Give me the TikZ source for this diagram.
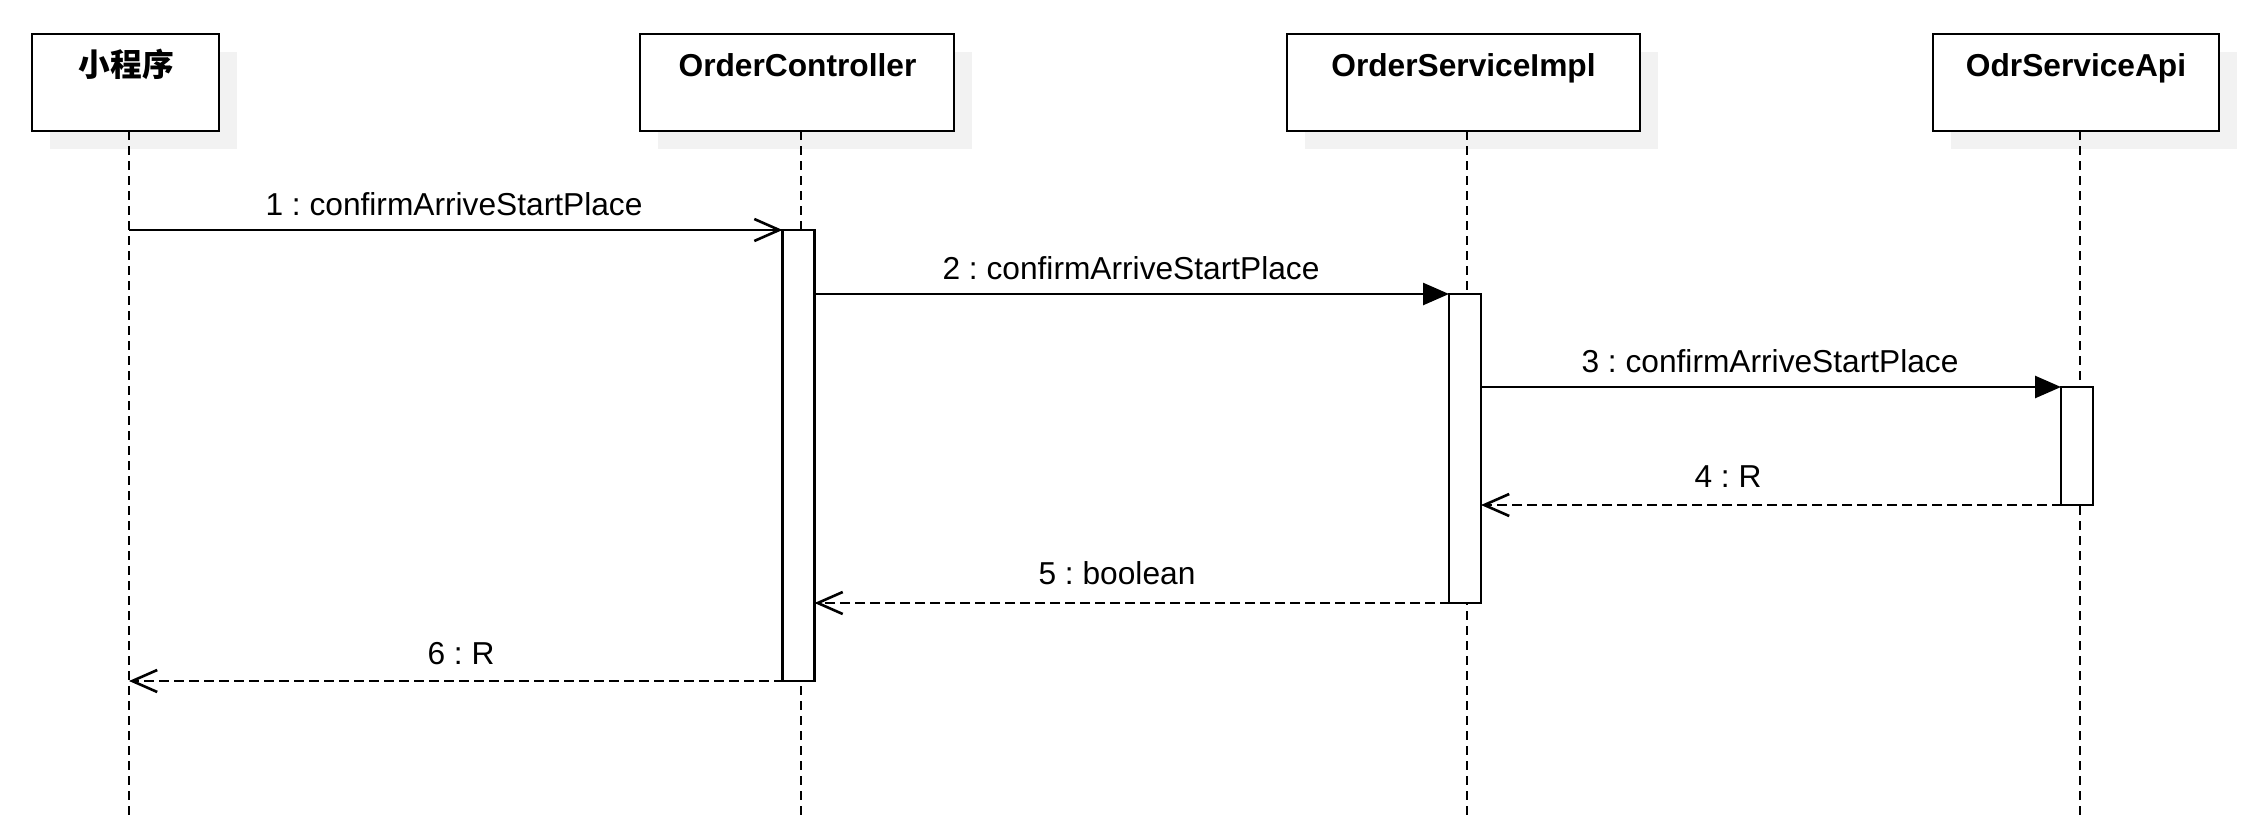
\documentclass[tikz,border=0pt]{standalone}
\usepackage{fontspec}
\setmainfont{Liberation Sans}
\newfontfamily\cjk{Noto Sans CJK SC}
\usetikzlibrary{arrows.meta,shadows,calc}
\definecolor{shadowgray}{HTML}{F2F2F2}
\frenchspacing
\tikzset{
  x=0.5pt, y=-0.5pt,
  every node/.style={font=\fontsize{15.85}{19}\selectfont},
  header/.style={draw, line width=1.3pt, fill=white, inner sep=0pt, outer sep=0pt,
    minimum height=48.5pt,
    drop shadow={shadow xshift=9pt, shadow yshift=-9pt, fill=shadowgray, opacity=1}},
  title/.style={anchor=base, inner sep=0pt, font=\fontsize{15.85}{19}\selectfont\bfseries},
  lifeline/.style={line width=1.3pt, dash pattern=on 4.5pt off 3pt},
  bar/.style={draw, line width=1.3pt, fill=white, inner sep=0pt, outer sep=0pt, minimum width=16pt},
  callmsg/.style={line width=1.3pt, -{Triangle[length=13pt,width=11pt]}},
  firstmsg/.style={line width=1.3pt, -{Straight Barb[length=12.5pt,width=11pt,line width=1.3pt]}},
  retmsg/.style={line width=1.3pt, dash pattern=on 5pt off 2.5pt, -{Straight Barb[length=12.5pt,width=11pt,line width=1.3pt]}},
  msglabel/.style={anchor=base, inner sep=0pt}
}
\begin{document}
\begin{tikzpicture}
\useasboundingbox (0,0) rectangle (2268,835);

% headers
\node[header, minimum width=93.5pt] (hA) at (125.5,82.5) {};
\node[header, minimum width=157pt] (hB) at (797,82.5) {};
\node[header, minimum width=176.5pt] (hC) at (1463.5,82.5) {};
\node[header, minimum width=143pt] (hD) at (2076,82.5) {};
\node[title] (tA) at (126.5,76) {\cjk\bfseries 小程序};
\node[title] (tB) at (797.5,76) {OrderController};
\node[title] (tC) at (1463.5,76) {OrderServiceImpl};
\node[title] (tD) at (2076,76) {OdrServiceApi};

% lifelines
\coordinate (lA) at (129,131);  \coordinate (eA) at (129,816);
\coordinate (lB) at (801,131);  \coordinate (eB) at (801,816);
\coordinate (lC) at (1467,131); \coordinate (eC) at (1467,816);
\coordinate (lD) at (2080,131); \coordinate (eD) at (2080,816);
\draw[lifeline] (lA) -- (eA);
\draw[lifeline] (lB) -- (eB);
\draw[lifeline] (lC) -- (eC);
\draw[lifeline] (lD) -- (eD);

% activation bars
\node[bar, minimum height=225.5pt] (bB) at (798.5,455.5) {};
\node[bar, minimum height=154.5pt] (bC) at (1465,448.5) {};
\node[bar, minimum height=59pt] (bD) at (2077,446) {};

% messages
\draw[firstmsg] (lA |- bB.north) -- (bB.north west);
\node[msglabel] (m1) at (454,215) {1 : confirmArriveStartPlace};

\draw[callmsg] (bB.east |- bC.north) -- (bC.north west);
\node[msglabel] (m2) at (1131,279) {2 : confirmArriveStartPlace};

\draw[callmsg] (bC.east |- bD.north) -- (bD.north west);
\node[msglabel] (m3) at (1770,372) {3 : confirmArriveStartPlace};

\draw[retmsg] (bD.south) -- (bC.east |- bD.south);
\node[msglabel] (m4) at (1728,487) {4 : R};

\draw[retmsg] (bC.south) -- (bB.east |- bC.south);
\node[msglabel] (m5) at (1117,584) {5 : boolean};

\draw[retmsg] (bB.south) -- (lA |- bB.south);
\node[msglabel] (m6) at (461,664) {6 : R};
\end{tikzpicture}
\end{document}
